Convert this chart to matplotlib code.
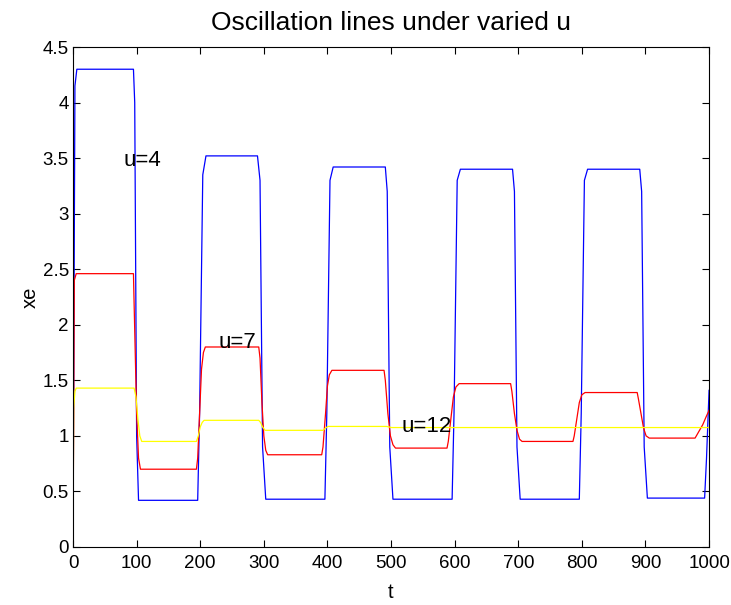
import numpy as np
from matplotlib import pyplot as plt

plt.rcParams['font.family'] = ['Liberation Sans', 'DejaVu Sans']

# u=4 (blue) corner points
t_u4 = [0, 3, 6, 95, 97, 100, 103, 196, 199, 204, 209, 290, 294, 298, 303, 396, 399, 404, 409, 491, 494, 498, 503, 596, 599, 604, 609, 691, 694, 698, 703, 796, 799, 804, 809, 891, 894, 898, 903, 993, 996, 1000]
x_u4 = [0, 4.15, 4.30, 4.30, 4.0, 1.0, 0.42, 0.42, 1.2, 3.35, 3.52, 3.52, 3.3, 0.9, 0.43, 0.43, 1.2, 3.3, 3.42, 3.42, 3.2, 0.9, 0.43, 0.43, 1.2, 3.3, 3.40, 3.40, 3.2, 0.9, 0.43, 0.43, 1.2, 3.3, 3.40, 3.40, 3.2, 0.9, 0.44, 0.44, 0.8, 1.41]

# u=7 (red) corner points
t_u7 = [0, 2, 5, 95, 96, 100, 103, 106, 194, 196, 199, 202, 205, 208, 292, 294, 297, 300, 303, 306, 391, 393, 397, 400, 403, 407, 489, 491, 495, 499, 503, 507, 588, 590, 594, 598, 602, 607, 688, 690, 694, 698, 702, 706, 786, 788, 792, 796, 800, 805, 887, 889, 893, 897, 901, 906, 978, 982, 990, 996, 1000]
x_u7 = [0, 2.40, 2.46, 2.46, 2.2, 1.2, 0.8, 0.70, 0.70, 0.8, 1.2, 1.6, 1.75, 1.80, 1.80, 1.7, 1.3, 1.0, 0.87, 0.83, 0.83, 0.9, 1.2, 1.45, 1.55, 1.59, 1.59, 1.5, 1.2, 1.0, 0.92, 0.89, 0.89, 0.95, 1.15, 1.35, 1.44, 1.47, 1.47, 1.4, 1.2, 1.05, 0.97, 0.95, 0.95, 1.0, 1.15, 1.3, 1.37, 1.39, 1.39, 1.33, 1.2, 1.07, 1.0, 0.98, 0.98, 1.02, 1.1, 1.18, 1.23]

# u=12 (yellow) corner points
t_u12 = [0, 1, 3, 5, 96, 99, 102, 105, 108, 194, 197, 200, 203, 206, 292, 295, 298, 302, 393, 397, 401, 493, 497, 501, 1000]
x_u12 = [0, 1.25, 1.40, 1.43, 1.43, 1.35, 1.15, 1.0, 0.95, 0.95, 1.0, 1.08, 1.12, 1.14, 1.14, 1.12, 1.08, 1.05, 1.05, 1.07, 1.085, 1.085, 1.08, 1.075, 1.075]

fig = plt.figure(figsize=(7.31, 6.05), dpi=100)
ax = fig.add_axes([0.0999, 0.0959, 0.8701, 0.8264])

ax.plot(t_u4, x_u4, color='#0000ff', lw=0.9)
ax.plot(t_u7, x_u7, color='#ff0000', lw=0.9)
ax.plot(t_u12, x_u12, color='#ffff00', lw=0.9)

ax.text(79, 3.48, 'u=4', fontsize=16, va='center')
ax.text(228, 1.84, 'u=7', fontsize=16, va='center')
ax.text(517, 1.08, 'u=12', fontsize=16, va='center')

ax.set_xlim(0, 1000)
ax.set_ylim(0, 4.5)
ax.set_xticks(np.arange(0, 1001, 100))
ax.set_yticks(np.arange(0, 4.51, 0.5))
ax.set_yticklabels(['0', '0.5', '1', '1.5', '2', '2.5', '3', '3.5', '4', '4.5'])
ax.tick_params(direction='in', top=True, right=True, length=5, width=0.8, labelsize=13.5, pad=3)
ax.tick_params(axis='x', pad=6)
for s in ax.spines.values():
    s.set_linewidth(0.8)

ax.set_title('Oscillation lines under varied u', fontsize=19, pad=12)
ax.set_xlabel('t', fontsize=14.5, labelpad=8)
ax.set_ylabel('xe', fontsize=14.5, labelpad=2)

plt.savefig('out.png')
